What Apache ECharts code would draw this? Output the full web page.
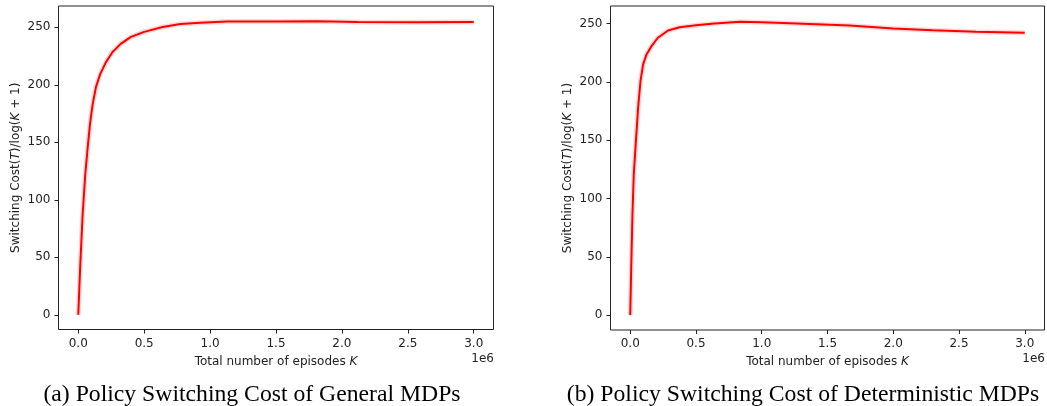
<!DOCTYPE html>
<html>
<head>
<meta charset="utf-8">
<script src="https://cdn.jsdelivr.net/npm/echarts@6/dist/echarts.min.js"></script>
<style>
html,body{margin:0;padding:0;background:#fff;}
#c{width:1047px;height:406px;}
</style>
</head>
<body>
<div id="c"></div>
<script>
// Data
const episodesA = [0, 15000, 33000, 53000, 71000, 89000, 109000, 134000, 167000, 210000, 260000, 324000, 400000, 500000, 640000, 775000, 926000, 1130000, 1500000, 1810000, 2120000, 2570000, 3000000];
const costA = [0, 43, 87, 122, 145, 166, 183, 198, 209.5, 219.7, 228.5, 235.8, 241.6, 246, 250.3, 252.8, 254, 255, 255, 255.2, 254.6, 254.4, 254.6];
const episodesB = [0, 7000, 17000, 27000, 43000, 60000, 78000, 98000, 124000, 162000, 210000, 288000, 376000, 500000, 640000, 837000, 1000000, 1267000, 1670000, 2000000, 2300000, 2630000, 3000000];
const costB = [0, 38, 86.5, 120.7, 149, 177.8, 200.6, 215, 223.5, 230.6, 237.8, 244, 246.8, 248.5, 250, 251.6, 251, 250, 248.3, 245.7, 244.3, 242.9, 242];
const xTicks = [0, 500000, 1000000, 1500000, 2000000, 2500000, 3000000];
const yTicks = [0, 50, 100, 150, 200, 250];
const captionA = '(a) Policy Switching Cost of General MDPs';
const captionB = '(b) Policy Switching Cost of Deterministic MDPs';

const FONT = 'DejaVu Sans';
const FS = 12;
const chart = echarts.init(document.getElementById('c'));

function pairs(xs, ys){ return xs.map((x,i)=>[x, ys[i]]); }

function xAxis(idx){
  return {
    type:'value', gridIndex:idx, min:-150000, max:3150000,
    axisLine:{show:false, onZero:false},
    splitLine:{show:false},
    axisTick:{show:true, inside:false, length:4, customValues:xTicks, lineStyle:{color:'#222'}},
    axisLabel:{show:true, customValues:xTicks, margin:8, color:'#222', fontFamily:FONT, fontSize:FS,
      formatter:v=>(v/1e6).toFixed(1)},
    name:'Total number of episodes {i|K}', nameLocation:'middle', nameGap:26,
    nameTextStyle:{color:'#222', fontFamily:FONT, fontSize:FS,
      rich:{i:{fontStyle:'italic', fontFamily:FONT, fontSize:FS, color:'#222'}}}
  };
}
function yAxis(idx, max){
  return {
    type:'value', gridIndex:idx, min:-12.75, max:max,
    axisLine:{show:false, onZero:false},
    splitLine:{show:false},
    axisTick:{show:true, inside:false, length:4, customValues:yTicks, lineStyle:{color:'#222'}},
    axisLabel:{show:true, customValues:yTicks, margin:8, color:'#222', fontFamily:FONT, fontSize:FS},
    name:'Switching Cost({i|T})/log({i|K} + 1)', nameLocation:'middle', nameRotate:90, nameGap:37,
    nameTextStyle:{color:'#222', fontFamily:FONT, fontSize:FS,
      rich:{i:{fontStyle:'italic', fontFamily:FONT, fontSize:FS, color:'#222'}}}
  };
}

chart.setOption({
  animation:false,
  backgroundColor:'#fff',
  grid:[
    {left:58.5, top:6, width:435, height:323.5, show:true, borderColor:'#222', borderWidth:1, backgroundColor:'transparent'},
    {left:610.5, top:6, width:434, height:324, show:true, borderColor:'#222', borderWidth:1, backgroundColor:'transparent'}
  ],
  xAxis:[xAxis(0), xAxis(1)],
  yAxis:[yAxis(0, 268.5), yAxis(1, 265)],
  series:[
    {type:'line', xAxisIndex:0, yAxisIndex:0, data:pairs(episodesA,costA), showSymbol:false, smooth:false,
      lineStyle:{color:'rgba(255,0,0,0.15)', width:5}, silent:true},
    {type:'line', xAxisIndex:0, yAxisIndex:0, data:pairs(episodesA,costA), showSymbol:false, smooth:false,
      lineStyle:{color:'#ff0000', width:2}},
    {type:'line', xAxisIndex:1, yAxisIndex:1, data:pairs(episodesB,costB), showSymbol:false, smooth:false,
      lineStyle:{color:'rgba(255,0,0,0.15)', width:5}, silent:true},
    {type:'line', xAxisIndex:1, yAxisIndex:1, data:pairs(episodesB,costB), showSymbol:false, smooth:false,
      lineStyle:{color:'#ff0000', width:2}}
  ],
  graphic:[
    {type:'text', right:1047-494, top:353, style:{text:'1e6', fill:'#222', font:'12px "DejaVu Sans"', textAlign:'right'}},
    {type:'text', right:2, top:353, style:{text:'1e6', fill:'#222', font:'12px "DejaVu Sans"', textAlign:'right'}},
    {type:'text', x:252, y:395, style:{text:captionA, fill:'#000', font:'23.7px "Liberation Serif"', textAlign:'center', textVerticalAlign:'middle'}},
    {type:'text', x:803, y:395, style:{text:captionB, fill:'#000', font:'23.7px "Liberation Serif"', textAlign:'center', textVerticalAlign:'middle'}}
  ]
});
</script>
</body>
</html>
